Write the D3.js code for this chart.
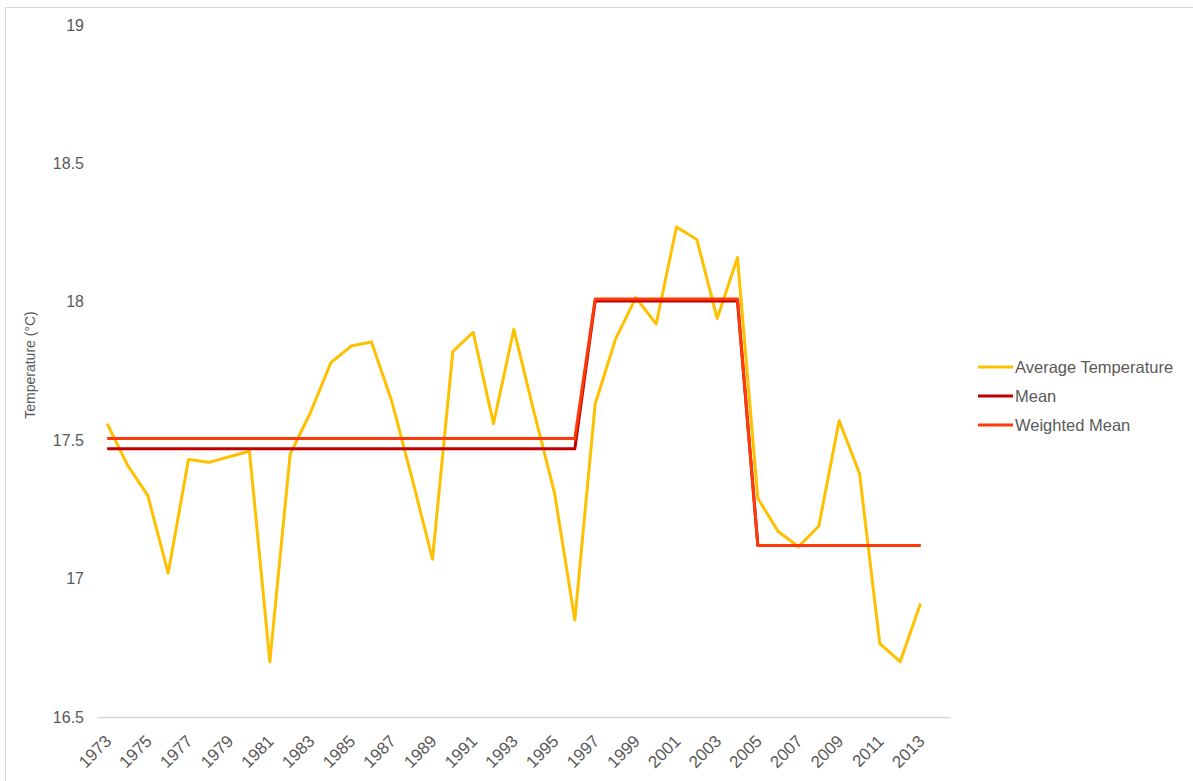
<!DOCTYPE html>
<html>
<head>
<meta charset="utf-8">
<script src="https://cdn.jsdelivr.net/npm/d3@7"></script>
<style>
  body { margin: 0; background: #fff; }
  svg { display: block; font-family: "Liberation Sans", Arial, sans-serif; }
</style>
</head>
<body>
<div id="chart"></div>
<script>
// years on the category axis (2014 is an empty slot at the end, like the original)
const years = d3.range(1973, 2015);
const tickYears = d3.range(1973, 2014, 2);

// average temperature per year, 1973 - 2013
const avgTemp = [17.56, 17.41, 17.30, 17.02, 17.43, 17.42, 17.44, 17.46, 16.70, 17.45,
  17.60, 17.78, 17.84, 17.855, 17.64, 17.36, 17.07, 17.82, 17.89, 17.56,
  17.90, 17.60, 17.31, 16.85, 17.63, 17.865, 18.015, 17.92, 18.27, 18.225,
  17.94, 18.16, 17.29, 17.17, 17.115, 17.19, 17.57, 17.38, 16.765, 16.70,
  16.91];

// period means
const mean = [17.469, 17.469, 17.469, 17.469, 17.469, 17.469, 17.469, 17.469, 17.469, 17.469,
  17.469, 17.469, 17.469, 17.469, 17.469, 17.469, 17.469, 17.469, 17.469, 17.469,
  17.469, 17.469, 17.469, 17.469, 18.003, 18.003, 18.003, 18.003, 18.003, 18.003,
  18.003, 18.003, 17.12, 17.12, 17.12, 17.12, 17.12, 17.12, 17.12, 17.12,
  17.12];

const weightedMean = [17.506, 17.506, 17.506, 17.506, 17.506, 17.506, 17.506, 17.506, 17.506, 17.506,
  17.506, 17.506, 17.506, 17.506, 17.506, 17.506, 17.506, 17.506, 17.506, 17.506,
  17.506, 17.506, 17.506, 17.506, 18.01, 18.01, 18.01, 18.01, 18.01, 18.01,
  18.01, 18.01, 17.12, 17.12, 17.12, 17.12, 17.12, 17.12, 17.12, 17.12,
  17.12];

const yTicks = [16.5, 17, 17.5, 18, 18.5, 19];

const series = [
  {name: 'Average Temperature', values: avgTemp, color: '#FFC000'},
  {name: 'Mean', values: mean, color: '#C00000'},
  {name: 'Weighted Mean', values: weightedMean, color: '#FF3A0A'}
];

const W = 1193, H = 781;
const plot = {left: 97, right: 951, top: 25, bottom: 717};
const textColor = '#595959';

var svg = d3.select('#chart')
    .append('svg')
    .attr('width', W)
    .attr('height', H);

// chart border (runs off the right and bottom edge)
svg.append('rect')
    .attr('x', 5.5).attr('y', 7.5)
    .attr('width', W).attr('height', H)
    .attr('fill', 'none')
    .attr('stroke', '#D9D9D9');

var x = d3.scaleBand()
    .domain(years)
    .range([plot.left, plot.right]);

var y = d3.scaleLinear()
    .domain([16.5, 19])
    .range([plot.bottom, plot.top]);

// y axis: labels only
var yAxis = d3.axisLeft(y).tickValues(yTicks).tickSize(0).tickPadding(13)
    .tickFormat(d3.format('~g'));
var gy = svg.append('g')
    .attr('transform', `translate(${plot.left},0)`)
    .call(yAxis);
gy.select('.domain').remove();
gy.selectAll('text')
    .attr('fill', textColor)
    .style('font-size', '16px');

// x axis line
svg.append('line')
    .attr('x1', plot.left).attr('x2', plot.right)
    .attr('y1', y(16.5) + 0.5).attr('y2', y(16.5) + 0.5)
    .attr('stroke', '#D9D9D9')
    .attr('stroke-width', 1.3);

// x labels, rotated
var xAxis = d3.axisBottom(x).tickValues(tickYears).tickSize(0).tickPadding(0);
var gx = svg.append('g')
    .attr('transform', `translate(0,${plot.bottom})`)
    .call(xAxis);
gx.select('.domain').remove();
gx.selectAll('text')
    .attr('fill', textColor)
    .style('font-size', '17px')
    .attr('text-anchor', 'end')
    .attr('dy', '0.35em')
    .attr('transform', 'translate(1,21) rotate(-45)');

// axis title
svg.append('text')
    .attr('transform', `translate(35,${(plot.top + plot.bottom) / 2 - 6}) rotate(-90)`)
    .attr('text-anchor', 'middle')
    .attr('fill', textColor)
    .style('font-size', '14px')
    .text('Temperature (°C)');

// lines
var line = d3.line()
    .x((d, i) => x(years[i]) + x.bandwidth() / 2)
    .y(d => y(d));

series.forEach(s => {
  svg.append('path')
      .datum(s.values)
      .attr('d', line)
      .attr('fill', 'none')
      .attr('stroke', s.color)
      .attr('stroke-width', 3)
      .attr('stroke-linejoin', 'round');
});

// legend
var legend = svg.append('g')
    .attr('transform', 'translate(978,367)');
series.forEach((s, i) => {
  var row = legend.append('g').attr('transform', `translate(0,${i * 29})`);
  row.append('line')
      .attr('x1', 0).attr('x2', 35)
      .attr('stroke', s.color)
      .attr('stroke-width', 3);
  row.append('text')
      .attr('x', 37)
      .attr('dy', '0.35em')
      .attr('fill', textColor)
      .style('font-size', '16.5px')
      .text(s.name);
});
</script>
</body>
</html>
